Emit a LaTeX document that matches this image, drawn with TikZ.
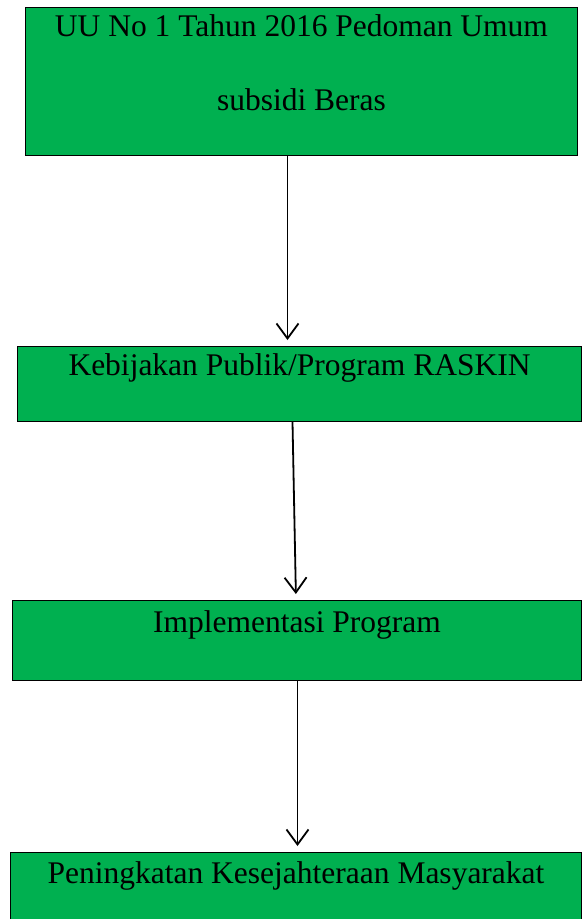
\documentclass[tikz,border=0pt]{standalone}
\usepackage{fontspec}
\setmainfont{Liberation Serif}
\usetikzlibrary{arrows.meta, positioning}
\definecolor{wordgreen}{HTML}{00B050}

\begin{document}
\begin{tikzpicture}[
    x=1pt, y=1pt,
    stage/.style={rectangle, draw, fill=wordgreen, line width=1pt, align=center, inner sep=0pt, font=\fontsize{31.5}{38}\selectfont},
    arrow/.style={-{Straight Barb[length=15pt, width=22pt]}, line width=1.8pt, shorten >=6pt}
]
\useasboundingbox (0,0) rectangle (582,-919);

\node (uu) [stage, anchor=north west, minimum width=552pt, text height=102.5pt, text depth=45.5pt] at (25,-7) {UU No 1 Tahun 2016 Pedoman Umum\\[36pt]subsidi Beras};
\node (raskin) [stage, below=190pt of uu, xshift=-2pt, minimum width=564pt, text height=29pt, text depth=46pt] {Kebijakan Publik/Program RASKIN};
\node (impl) [stage, below=178pt of raskin, xshift=-2.5pt, minimum width=569pt, text height=32pt, text depth=47.5pt] {Implementasi Program};
\node (sejahtera) [stage, below=171.5pt of impl, xshift=-1pt, minimum width=571pt, text height=30.5pt, text depth=45pt] {Peningkatan Kesejahteraan Masyarakat};

\draw [arrow] ([xshift=-14pt]uu.south) -- ([xshift=-12pt]raskin.north);
\draw [arrow] ([xshift=-7pt]raskin.south) -- ([xshift=-1pt]impl.north);
\draw [arrow] ([xshift=0.5pt]impl.south) -- ([xshift=1.5pt]sejahtera.north);

\end{tikzpicture}
\end{document}
